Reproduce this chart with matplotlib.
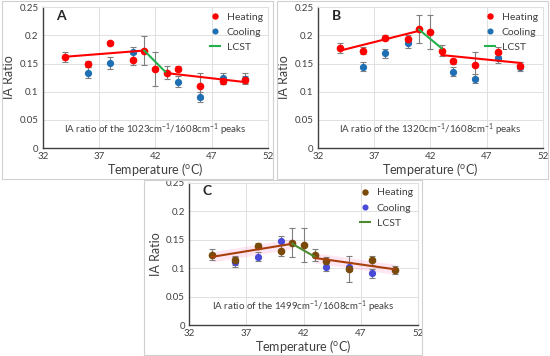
import matplotlib
matplotlib.use('Agg')
import matplotlib.pyplot as plt
from matplotlib.patches import Rectangle

plt.rcParams['font.family'] = ['Lato', 'DejaVu Sans']
plt.rcParams['mathtext.fontset'] = 'custom'
plt.rcParams['mathtext.rm'] = 'Lato'
plt.rcParams['mathtext.it'] = 'Lato'
plt.rcParams['mathtext.default'] = 'rm'

temps = [34, 36, 38, 40, 41, 42, 43, 44, 46, 48, 50]
cool_temps = [36, 38, 40, 44, 46, 48, 50]

# panel A - 1023/1608
heat_a = [0.162, 0.149, 0.186, 0.157, 0.173, 0.141, 0.134, 0.141, 0.110, 0.119, 0.121]
heat_a_err = [0.009, 0.006, 0.004, 0.010, 0.025, 0.030, 0.011, 0.004, 0.023, 0.006, 0.006]
cool_a = [0.134, 0.151, 0.170, 0.118, 0.090, 0.124, 0.123]
cool_a_err = [0.010, 0.010, 0.010, 0.010, 0.009, 0.010, 0.010]
fit_a = [([34, 41], [0.162, 0.173]), ([41, 43], [0.173, 0.133]), ([43, 50], [0.133, 0.117])]

# panel B - 1320/1608
heat_b = [0.177, 0.173, 0.196, 0.194, 0.211, 0.206, 0.173, 0.154, 0.148, 0.171, 0.146]
heat_b_err = [0.009, 0.006, 0.004, 0.006, 0.025, 0.030, 0.010, 0.004, 0.022, 0.008, 0.006]
cool_b = [0.144, 0.168, 0.186, 0.135, 0.123, 0.159, 0.144]
cool_b_err = [0.008, 0.008, 0.008, 0.008, 0.008, 0.008, 0.008]
fit_b = [([34, 41], [0.173, 0.208]), ([41, 43], [0.210, 0.177]), ([43, 50], [0.165, 0.151])]

# panel C - 1499/1608
heat_c = [0.124, 0.114, 0.139, 0.131, 0.145, 0.141, 0.123, 0.113, 0.099, 0.114, 0.097]
heat_c_err = [0.010, 0.008, 0.006, 0.010, 0.025, 0.030, 0.011, 0.006, 0.023, 0.008, 0.007]
cool_c = [0.111, 0.120, 0.148, 0.103, 0.103, 0.091]
cool_c_err = [0.008, 0.008, 0.008, 0.008, 0.008, 0.008]
fit_c = [([34, 41], [0.120, 0.143]), ([41, 43], [0.143, 0.120]), ([43, 50], [0.118, 0.098])]

xticks = [32, 37, 42, 47, 52]
yticks = [0, 0.05, 0.1, 0.15, 0.2, 0.25]
ytick_labels = ['0', '0.05', '0.1', '0.15', '0.2', '0.25']

fig = plt.figure(figsize=(5.5, 3.56), dpi=100)

# light chart-area borders like the excel panels
for (x0, y0, w, h) in [(0.004, 0.497, 0.493, 0.500), (0.504, 0.497, 0.493, 0.500), (0.262, 0.003, 0.506, 0.490)]:
    fig.add_artist(Rectangle((x0, y0), w, h, transform=fig.transFigure, fill=False,
                             edgecolor='#d0d0d0', linewidth=0.8))


def panel(rect, letter, ct, heat, herr, cool, cerr, fits, peak, hcol, ccol, lcol, gcol, shade=False):
    ax = fig.add_axes(rect)
    ax.set_xlim(32, 52)
    ax.set_ylim(0, 0.25)
    ax.set_xticks(xticks)
    ax.set_yticks(yticks)
    ax.set_yticklabels(ytick_labels)
    ax.grid(True, color='#e0e0e0', linewidth=0.7)
    ax.set_axisbelow(True)
    for s in ['top', 'right']:
        ax.spines[s].set_color('#e0e0e0')
    for s in ['left', 'bottom']:
        ax.spines[s].set_color('#404040')
        ax.spines[s].set_linewidth(1.0)
    ax.tick_params(length=0, labelsize=7, colors='#404040', pad=3)

    if shade:
        for (fx, fy) in [fits[0], fits[2]]:
            ax.fill_between(fx, [v - 0.009 for v in fy], [v + 0.009 for v in fy],
                            color='#ff9fd0', alpha=0.25, linewidth=0, zorder=1)

    ax.errorbar(temps, heat, yerr=herr, fmt='none', ecolor='#7f7f7f', elinewidth=0.8,
                capsize=2, capthick=0.8, zorder=2)
    ax.errorbar(ct, cool, yerr=cerr, fmt='none', ecolor='#7f7f7f', elinewidth=0.8,
                capsize=2, capthick=0.8, zorder=2)
    ax.plot(ct, cool, 'o', color=ccol, ms=4.2, zorder=3, label='Cooling')
    ax.plot(temps, heat, 'o', color=hcol, ms=4.5, zorder=4, label='Heating')
    ax.plot(fits[0][0], fits[0][1], color=lcol, lw=1.5, zorder=5)
    ax.plot(fits[1][0], fits[1][1], color=gcol, lw=1.5, zorder=5, label='LCST')
    ax.plot(fits[2][0], fits[2][1], color=lcol, lw=1.5, zorder=5)

    handles, labels = ax.get_legend_handles_labels()
    order = [labels.index('Heating'), labels.index('Cooling'), labels.index('LCST')]
    leg = ax.legend([handles[i] for i in order], [labels[i] for i in order],
                    loc='upper right', frameon=False, fontsize=7.5, handlelength=1.0,
                    borderaxespad=0.1, labelspacing=0.55, markerscale=0.8, handletextpad=0.6)
    for t in leg.get_texts():
        t.set_color('#404040')

    ax.text(33.2, 0.228, letter, fontsize=10, fontweight='bold', color='#262626')
    ax.text(42, 0.033, 'IA ratio of the ' + peak + 'cm$^{-1}$/1608cm$^{-1}$ peaks',
            ha='center', va='center', fontsize=7, color='#404040')
    ax.set_xlabel('Temperature ($^{o}$C)', fontsize=9, color='#404040', labelpad=0)
    ax.set_ylabel('IA Ratio', fontsize=9, color='#404040', labelpad=3)
    return ax


panel([0.078, 0.584, 0.409, 0.396], 'A', cool_temps, heat_a, heat_a_err, cool_a, cool_a_err,
      fit_a, '1023', '#ff0000', '#1f6fb4', '#ff0000', '#22b14c')
panel([0.578, 0.584, 0.409, 0.396], 'B', cool_temps, heat_b, heat_b_err, cool_b, cool_b_err,
      fit_b, '1320', '#ff0000', '#1f6fb4', '#ff0000', '#22b14c')
panel([0.344, 0.087, 0.416, 0.399], 'C', cool_temps[:6], heat_c, heat_c_err, cool_c, cool_c_err,
      fit_c, '1499', '#7a4a0a', '#4a4ad8', '#a8400e', '#4f8a30', shade=True)

fig.savefig('out.png', dpi=100)
